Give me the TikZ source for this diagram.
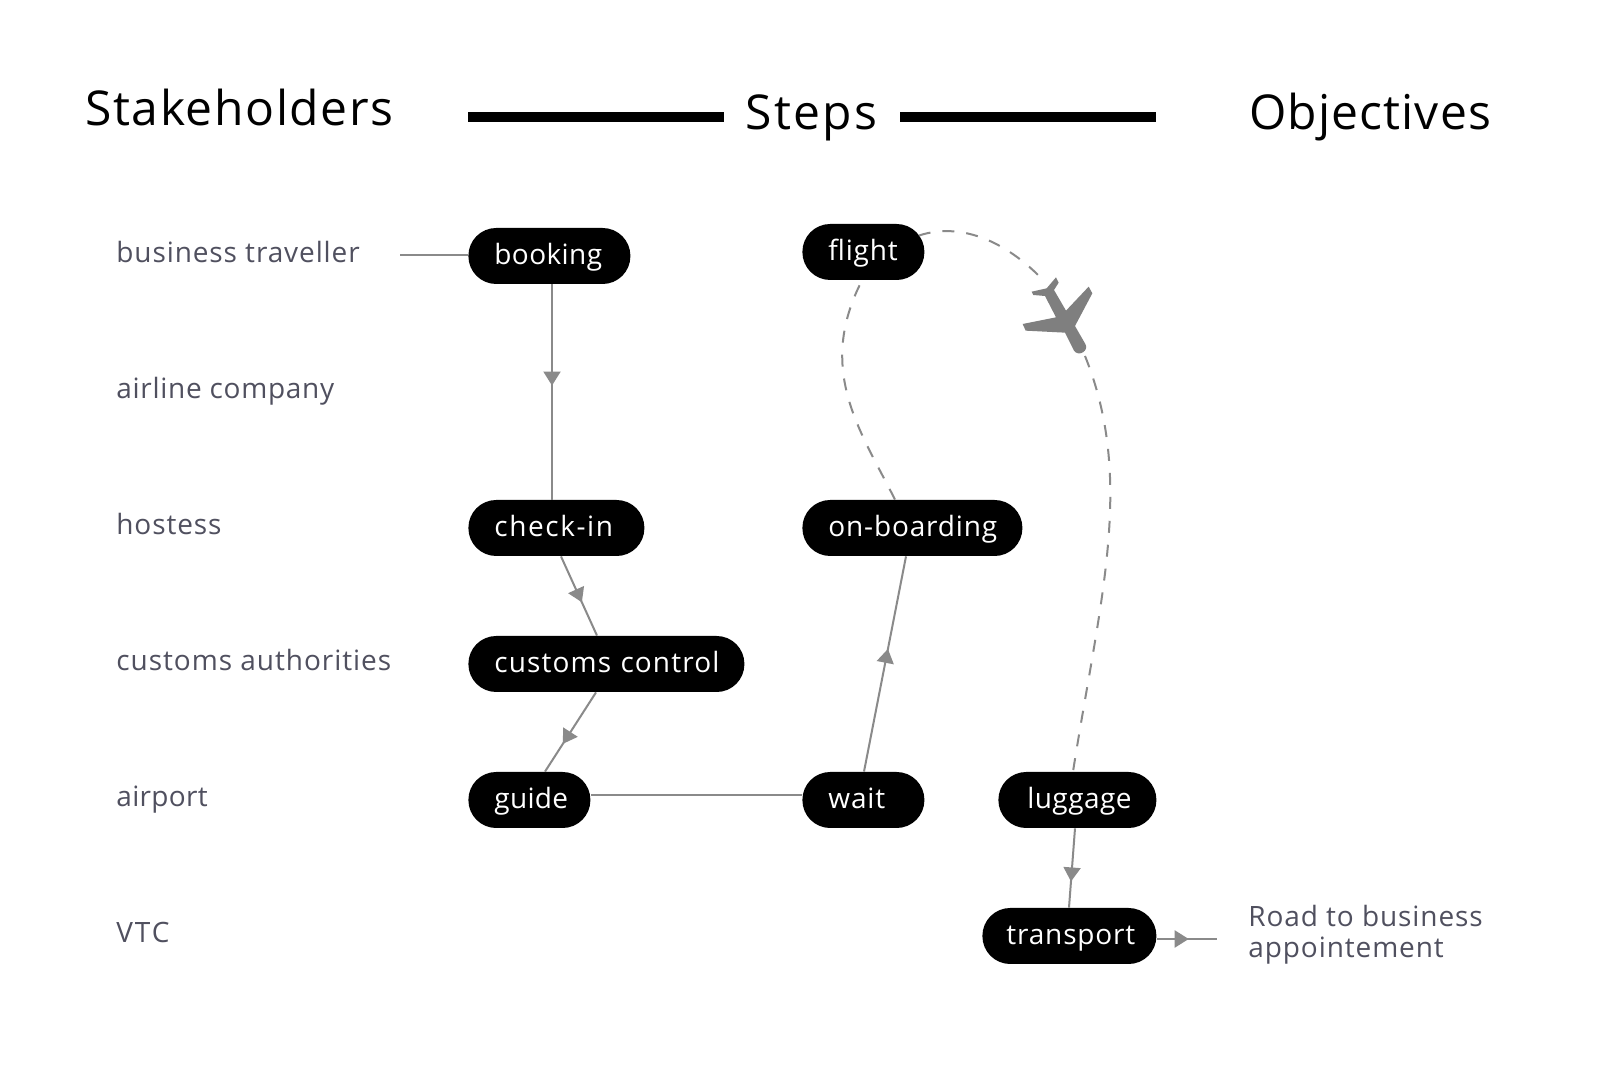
\documentclass[tikz,border=0pt]{standalone}
\usepackage{fontspec}
\setmainfont{Open Sans}
\usetikzlibrary{arrows.meta,decorations.markings}
\definecolor{linegray}{HTML}{8A8A8A}
\definecolor{planegray}{HTML}{7F7F7F}
\definecolor{labelgray}{HTML}{50505F}
\tikzset{
    head/.style={anchor=base west,inner sep=0pt,font=\fontsize{24}{28}\selectfont\addfontfeature{LetterSpace=#1},black},
    stake/.style={anchor=base west,inner sep=0pt,font=\fontsize{14}{15.5}\selectfont\addfontfeature{LetterSpace=#1},text=labelgray,align=left},
    track/.style={font=\fontsize{14}{16}\selectfont\addfontfeature{LetterSpace=#1}},
    pill/.style={anchor=west,fill=black,text=white,rounded corners=13.9pt,minimum height=28pt,inner ysep=0pt,inner xsep=13pt,
        text width=#1,align=left,text height=12pt,text depth=3pt,track=3},
    flow/.style={draw=linegray,line width=1pt,postaction={decorate},decoration={markings,
        mark=at position #1 with {\arrow[linegray]{Triangle[length=7pt,width=8.5pt]}}}},
    plain/.style={draw=linegray,line width=1pt},
    dashflow/.style={draw=linegray,line width=1pt,dash pattern=on 6pt off 6pt}
}
\begin{document}
\begin{tikzpicture}[x=0.5pt,y=-0.5pt]
        \useasboundingbox[fill=white] (0,0) rectangle (1602,1068);

        \node[head=3.3] (stakeholders) at (85,126) {Stakeholders};
        \node[head=5] (steps) at (745,130) {Steps};
        \node[head=2.3] (objectives) at (1249,130) {Objectives};
        \fill[black] (468,112) rectangle (724,122);
        \fill[black] (900,112) rectangle (1156,122);

        \foreach \y/\name/\txt/\gap in {262.5/traveller/business traveller/3.2,398.5/airline/airline company/2.5,
            534.5/hostess/hostess/3.2,670.5/authorities/customs authorities/3.4,806.5/airport/airport/1.2,942.5/vtc/VTC/6.8} {
            \node[stake=\gap] (\name) at (116,\y) {\txt};
        }
        \node[stake=3.2,anchor=west] (road) at (1248,935) {Road to business\\appointement};

        \node[pill=55pt,track=1.5] (booking) at (468,256) {booking};
        \node[pill=35pt] (flight) at (802,252) {flight};
        \node[pill=62pt,track=5.7] (checkin) at (468,528) {check-in};
        \node[pill=84pt] (onboarding) at (802,528) {\mbox{on-boarding}};
        \node[pill=112pt,track=4] (customs) at (468,664) {customs control};
        \node[pill=35pt,track=1] (guide) at (468,800) {guide};
        \node[pill=35pt] (wait) at (802,800) {wait};
        \node[pill=50pt,inner xsep=14.5pt,track=1.5] (luggage) at (998,800) {luggage};
        \node[pill=63pt,inner xsep=12pt] (transport) at (982,936) {transport};

        \coordinate (travellerend) at (400,255);
        \coordinate (roadend) at (1217,939);
        \coordinate (planein) at (1044,281);
        \coordinate (planeout) at (1085,356);

        \path[plain] (travellerend) -- (booking.west |- travellerend);
        \path[flow=0.47] (booking.south -| 552,0) -- (checkin.north -| 552,0);
        \path[flow=0.58] (checkin.south -| 561,0) -- (customs.north -| 597,0);
        \path[flow=0.65] (customs.south -| 596,0) -- (guide.north -| 545,0);
        \path[plain] (guide.east |- 0,795) -- (wait.west |- 0,795);
        \path[flow=0.57] (wait.north -| 864,0) -- (onboarding.south -| 906,0);
        \path[flow=0.67] (luggage.south -| 1075,0) -- (transport.north -| 1069,0);
        \path[flow=0.53] (transport.east |- roadend) -- (roadend);

        \path[dashflow] (onboarding.north -| 895,0) .. controls (860,430) and (816,370) .. (flight.south -| 862,0);
        \path[dashflow] ([xshift=-3pt,yshift=-6pt]flight.north east) .. controls (960,222) and (1005,240) .. (planein);
        \path[dashflow] (planeout) .. controls (1135,480) and (1100,600) .. (luggage.north -| 1073,0);

        \fill[planegray,shift={(980,240)},scale=1/3] (155,155) -- (200,145) -- (228,112) -- (236,128) -- (222,150)
            -- (258,212) -- (326,140) -- (337,160) -- (285,258) -- (316,312)
            .. controls (328,332) and (296,352) .. (282,332) -- (255,278) -- (137,272) -- (128,252) -- (228,232)
            -- (195,168) -- (160,165) -- cycle;
    \end{tikzpicture}
\end{document}
